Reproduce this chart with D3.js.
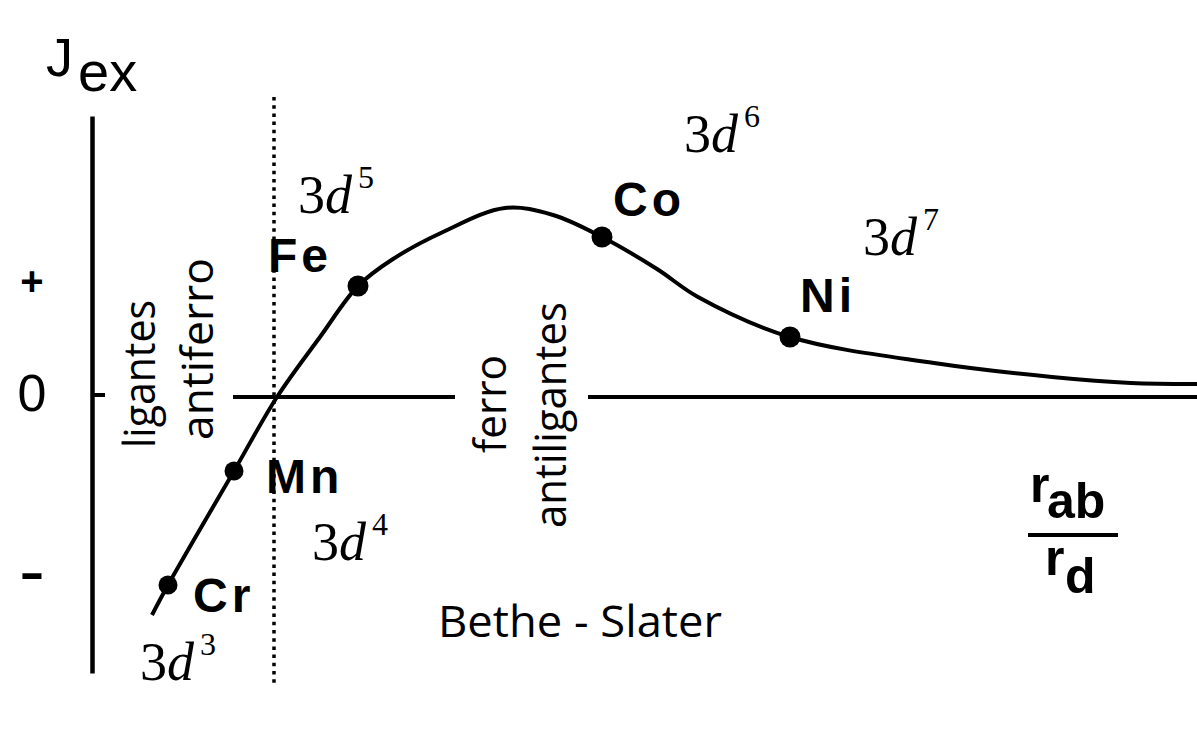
<!DOCTYPE html>
<html><head><meta charset="utf-8">
<script src="https://cdn.jsdelivr.net/npm/d3@7"></script>
<style>html,body{margin:0;padding:0;background:#fff;overflow:hidden}</style>
</head><body>
<svg id="c" width="1197" height="745"></svg>
<script>
// ---- data ----
const elements = ["Cr", "Mn", "Fe", "Co", "Ni"];
const configs = ["3", "4", "5", "6", "7"];
const elementX = [0.75, 1.41, 2.65, 5.09, 6.97];
const elementJ = [-1.88, -0.74, 1.11, 1.60, 0.60];
const curveX = [0.59, 0.75, 1.41, 1.84, 2.27, 2.65, 3.00, 3.50, 4.12, 4.60, 5.09, 5.64, 6.05, 6.97, 8.41, 9.59, 10.38, 11.04];
const curveJ = [-2.18, -1.88, -0.74, 0.00, 0.60, 1.11, 1.38, 1.65, 1.89, 1.82, 1.60, 1.28, 1.00, 0.60, 0.34, 0.20, 0.14, 0.13];
const tickValues = [1.17, 0, -1.8];
const tickLabels = ["+", "0", "-"];
const regionLeft = ["ligantes", "antiferro"];
const regionRight = ["ferro", "antiligantes"];
const title = "Bethe - Slater";
const yLabel = ["J", "ex"];
const xLabelTop = ["r", "ab"];
const xLabelBottom = ["r", "d"];

// ---- drawing ----
const svg = d3.select("#c");
const x = d3.scaleLinear().domain([0, 11.04]).range([93, 1197]);
const y = d3.scaleLinear().domain([-2.76, 2.81]).range([673, 116]);
const sans = "'Liberation Sans', Arial, sans-serif";
const serif = "'Liberation Serif', 'Times New Roman', serif";
const comic = "'Comic Sans MS', 'Open Sans', sans-serif";

// y axis
const ax = svg.append("g").attr("transform", "translate(92,0)")
  .call(d3.axisLeft(y).tickValues(tickValues).tickFormat((d, i) => tickLabels[i]).tickSize(0).tickSizeOuter(0));
ax.select(".domain").attr("stroke", "#000").attr("stroke-width", 4.5);
const tickStyle = [
  {size: 40, weight: "bold", dy: 14, len: null},
  {size: 52, weight: "normal", dy: 13.6, len: null},
  {size: 48, weight: "bold", dy: 11.5, len: 25}
];
ax.selectAll(".tick text").each(function(d, i) {
  const s = tickStyle[i];
  const t = d3.select(this)
    .attr("x", -60).attr("dy", null).attr("y", s.dy)
    .attr("text-anchor", "middle")
    .attr("font-family", sans).attr("font-size", s.size).attr("font-weight", s.weight)
    .attr("fill", "#000");
  if (s.len) t.attr("textLength", s.len).attr("lengthAdjust", "spacingAndGlyphs");
});
// tick mark at zero
svg.append("line").attr("x1", 92).attr("x2", 105).attr("y1", y(0) - 2).attr("y2", y(0) - 2)
  .attr("stroke", "#000").attr("stroke-width", 4);

// zero line (with a gap for the vertical labels)
[[1.40, 3.62], [4.95, 11.04]].forEach(seg => {
  svg.append("line").attr("x1", x(seg[0])).attr("x2", x(seg[1]))
    .attr("y1", y(0)).attr("y2", y(0))
    .attr("stroke", "#000").attr("stroke-width", 4);
});

// dotted boundary
svg.append("line").attr("x1", x(1.81)).attr("x2", x(1.81))
  .attr("y1", y(3.0)).attr("y2", y(-2.88))
  .attr("stroke", "#000").attr("stroke-width", 3.5).attr("stroke-dasharray", "3.5 4.7");

// curve
const pts = curveX.map((v, i) => [v, curveJ[i]]);
svg.append("path").datum(pts)
  .attr("d", d3.line().x(d => x(d[0])).y(d => y(d[1])).curve(d3.curveCatmullRom.alpha(0.5)))
  .attr("fill", "none").attr("stroke", "#000").attr("stroke-width", 4);

// markers
const elPts = elements.map((e, i) => ({e, c: configs[i], px: x(elementX[i]), py: y(elementJ[i])}));
svg.selectAll("circle.el").data(elPts).enter().append("circle")
  .attr("cx", d => d.px).attr("cy", d => d.py).attr("r", (d, i) => i < 2 ? 9.5 : 10.5)
  .attr("fill", "#000");

// element labels
const elOff = [[25, 27], [32, 22], [-90, -14], [11, -21], [10, -25]];
svg.selectAll("text.el").data(elPts).enter().append("text")
  .attr("x", (d, i) => d.px + elOff[i][0]).attr("y", (d, i) => d.py + elOff[i][1])
  .attr("font-family", sans).attr("font-weight", "bold").attr("font-size", 48)
  .attr("letter-spacing", 4).attr("fill", "#000")
  .text(d => d.e);

// 3d^n labels
const cfgOff = [[-28, 95], [78, 89], [-60, -73], [82, -85], [73, -82]];
const cfg = svg.selectAll("text.cfg").data(elPts).enter().append("text")
  .attr("x", (d, i) => d.px + cfgOff[i][0]).attr("y", (d, i) => d.py + cfgOff[i][1])
  .attr("font-family", serif).attr("font-size", 54).attr("fill", "#000");
cfg.append("tspan").text("3");
cfg.append("tspan").attr("font-style", "italic").text("d");
cfg.append("tspan").attr("font-size", 32).attr("dx", 6).attr("dy", -25).text(d => d.c);

// vertical region labels
function vtext(t, tx, ty, len) {
  svg.append("text").attr("transform", `translate(${tx},${ty}) rotate(-90)`)
    .attr("font-family", comic).attr("font-size", 43).attr("fill", "#000")
    .attr("textLength", len).attr("lengthAdjust", "spacingAndGlyphs")
    .text(t);
}
vtext(regionLeft[0], 155, 448, 148);
vtext(regionLeft[1], 213, 440, 182);
vtext(regionRight[0], 506, 453, 98);
vtext(regionRight[1], 566, 528, 226);

// title
svg.append("text").attr("x", 438).attr("y", 637)
  .attr("font-family", comic).attr("font-size", 44).attr("fill", "#000")
  .attr("textLength", 284).attr("lengthAdjust", "spacingAndGlyphs")
  .text(title);

// y label J_ex
svg.append("text").attr("x", 46).attr("y", 76).attr("font-family", sans).attr("font-size", 54).attr("fill", "#000").text(yLabel[0]);
svg.append("text").attr("x", 78).attr("y", 91).attr("font-family", sans).attr("font-size", 56).attr("fill", "#000").text(yLabel[1]);

// x label r_ab / r_d
const fx = svg.append("g").attr("font-family", sans).attr("font-weight", "bold").attr("font-size", 50).attr("fill", "#000");
fx.append("text").attr("x", 1030).attr("y", 502).text(xLabelTop[0]);
fx.append("text").attr("x", 1047).attr("y", 518).text(xLabelTop[1]);
svg.append("line").attr("x1", 1028).attr("x2", 1118).attr("y1", 535).attr("y2", 535).attr("stroke", "#000").attr("stroke-width", 4);
fx.append("text").attr("x", 1045).attr("y", 575).text(xLabelBottom[0]);
fx.append("text").attr("x", 1065).attr("y", 593).text(xLabelBottom[1]);
</script>
</body></html>
